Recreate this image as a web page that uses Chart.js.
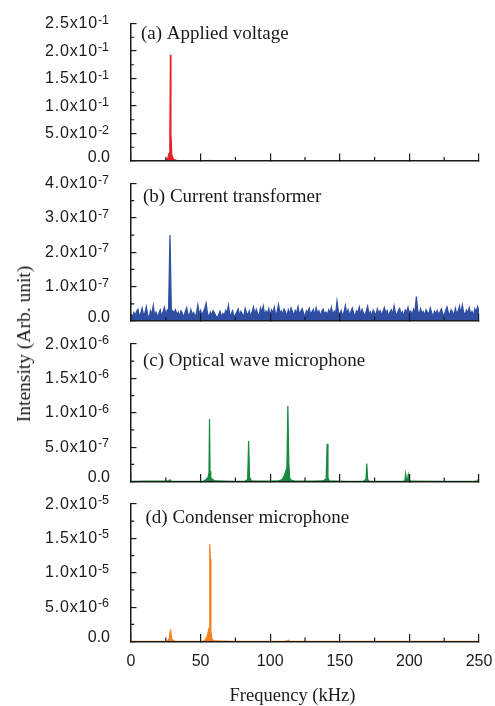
<!DOCTYPE html>
<html>
<head>
<meta charset="utf-8">
<script src="https://cdn.jsdelivr.net/npm/chart.js@4.4.0/dist/chart.umd.min.js"></script>
<style>
  html, body { margin: 0; padding: 0; background: #fff; }
  #wrap { position: relative; width: 495px; height: 706px; overflow: hidden; }
  canvas { position: absolute; left: 0; }
  #ytitle {
    position: absolute; left: 24px; top: 344px;
    transform: translate(-50%, -50%) rotate(-90deg);
    font: 19.5px "Liberation Serif", "Times New Roman", serif;
    color: #1a1a1a; white-space: nowrap;
  }
</style>
</head>
<body>
<div id="wrap">
  <canvas id="cA" width="495" height="170" style="top:0px"></canvas>
  <canvas id="cB" width="495" height="160" style="top:170px"></canvas>
  <canvas id="cC" width="495" height="160" style="top:330px"></canvas>
  <canvas id="cD" width="495" height="216" style="top:490px"></canvas>
  <div id="ytitle">Intensity (Arb. unit)</div>
</div>
<script>
// x axis (kHz)
const xMinor = [25, 75, 125, 175, 225];

// (a) applied voltage, values in units of 10^-1
const freqA = [0, 15, 24, 25.5, 26.5, 27.3, 27.9, 28.3, 28.7, 29.3, 30.5, 33, 45, 55, 56.5, 58, 85, 112, 113, 114.5, 140, 170, 200, 250];
const voltA = [0.004, 0.003, 0.004, 0.02, 0.06, 0.14, 0.45, 1.93, 0.5, 0.12, 0.03, 0.006, 0.003, 0.004, 0.012, 0.004, 0.003, 0.003, 0.006, 0.003, 0.003, 0.003, 0.003, 0.003];
const ticksA = [0, 0.5, 1.0, 1.5, 2.0, 2.5];
const labelsA = [['0.0', ''], ['5.0x10', '-2'], ['1.0x10', '-1'], ['1.5x10', '-1'], ['2.0x10', '-1'], ['2.5x10', '-1']];
const minorA = [0.25, 0.75, 1.25, 1.75, 2.25];

// (b) current transformer, units of 10^-7
const freqB = [
  0, 1, 2, 3, 4, 5, 6, 7, 8, 9,
  10, 11, 12, 13, 14, 15, 16, 17, 18, 19,
  20, 21, 22, 23, 24, 25, 26, 27, 28, 29,
  30, 31, 32, 33, 34, 35, 36, 37, 38, 39,
  40, 41, 42, 43, 44, 45, 46, 47, 48, 49,
  50, 51, 52, 53, 54, 55, 56, 57, 58, 59,
  60, 61, 62, 63, 64, 65, 66, 67, 68, 69,
  70, 71, 72, 73, 74, 75, 76, 77, 78, 79,
  80, 81, 82, 83, 84, 85, 86, 87, 88, 89,
  90, 91, 92, 93, 94, 95, 96, 97, 98, 99,
  100, 101, 102, 103, 104, 105, 106, 107, 108, 109,
  110, 111, 112, 113, 114, 115, 116, 117, 118, 119,
  120, 121, 122, 123, 124, 125, 126, 127, 128, 129,
  130, 131, 132, 133, 134, 135, 136, 137, 138, 139,
  140, 141, 142, 143, 144, 145, 146, 147, 148, 149,
  150, 151, 152, 153, 154, 155, 156, 157, 158, 159,
  160, 161, 162, 163, 164, 165, 166, 167, 168, 169,
  170, 171, 172, 173, 174, 175, 176, 177, 178, 179,
  180, 181, 182, 183, 184, 185, 186, 187, 188, 189,
  190, 191, 192, 193, 194, 195, 196, 197, 198, 199,
  200, 201, 202, 203, 204, 205, 206, 207, 208, 209,
  210, 211, 212, 213, 214, 215, 216, 217, 218, 219,
  220, 221, 222, 223, 224, 225, 226, 227, 228, 229,
  230, 231, 232, 233, 234, 235, 236, 237, 238, 239,
  240, 241, 242, 243, 244, 245, 246, 247, 248, 249,
  250
];
const currB = [
  0.20, 0.12, 0.25, 0.16, 0.28, 0.34, 0.14, 0.22, 0.38, 0.18,
  0.24, 0.42, 0.17, 0.10, 0.30, 0.21, 0.45, 0.15, 0.26, 0.12,
  0.22, 0.33, 0.14, 0.27, 0.40, 0.19, 0.31, 0.36, 2.50, 0.32,
  0.29, 0.24, 0.33, 0.18, 0.26, 0.15, 0.30, 0.21, 0.12, 0.28,
  0.39, 0.20, 0.16, 0.33, 0.19, 0.25, 0.11, 0.23, 0.47, 0.20,
  0.31, 0.16, 0.28, 0.37, 0.52, 0.21, 0.13, 0.26, 0.18, 0.30,
  0.23, 0.15, 0.09, 0.20, 0.29, 0.12, 0.22, 0.17, 0.31, 0.25,
  0.46, 0.14, 0.21, 0.30, 0.11, 0.19, 0.26, 0.35, 0.16, 0.28,
  0.20, 0.13, 0.37, 0.24, 0.18, 0.30, 0.12, 0.27, 0.41, 0.19,
  0.34, 0.22, 0.15, 0.38, 0.26, 0.44, 0.18, 0.29, 0.21, 0.36,
  0.17, 0.32, 0.24, 0.40, 0.15, 0.28, 0.48, 0.22, 0.30, 0.19,
  0.35, 0.26, 0.14, 0.33, 0.21, 0.38, 0.27, 0.16, 0.31, 0.24,
  0.42, 0.18, 0.29, 0.36, 0.22, 0.13, 0.30, 0.25, 0.37, 0.20,
  0.27, 0.34, 0.17, 0.39, 0.23, 0.30, 0.15, 0.28, 0.35, 0.21,
  0.26, 0.18, 0.33, 0.24, 0.40, 0.16, 0.29, 0.22, 0.58, 0.27,
  0.19, 0.31, 0.14, 0.26, 0.45, 0.21, 0.33, 0.17, 0.28, 0.38,
  0.22, 0.15, 0.30, 0.26, 0.41, 0.19, 0.34, 0.23, 0.16, 0.29,
  0.43, 0.21, 0.27, 0.14, 0.32, 0.24, 0.18, 0.36, 0.22, 0.30,
  0.17, 0.28, 0.39, 0.23, 0.31, 0.15, 0.26, 0.33, 0.20, 0.44,
  0.24, 0.18, 0.30, 0.37, 0.21, 0.27, 0.14, 0.32, 0.25, 0.40,
  0.22, 0.29, 0.17, 0.34, 0.26, 0.71, 0.30, 0.19, 0.36, 0.23,
  0.28, 0.16, 0.33, 0.25, 0.20, 0.38, 0.24, 0.13, 0.29, 0.22,
  0.31, 0.18, 0.27, 0.35, 0.21, 0.16, 0.30, 0.41, 0.24, 0.19,
  0.33, 0.26, 0.15, 0.37, 0.22, 0.29, 0.43, 0.20, 0.47, 0.25,
  0.18, 0.32, 0.24, 0.39, 0.21, 0.28, 0.15, 0.36, 0.27, 0.42,
  0.30
];
const ticksB = [0, 1, 2, 3, 4];
const labelsB = [['0.0', ''], ['1.0x10', '-7'], ['2.0x10', '-7'], ['3.0x10', '-7'], ['4.0x10', '-7']];
const minorB = [0.5, 1.5, 2.5, 3.5];

// (c) optical wave microphone, units of 10^-6
const freqC = [0, 12, 26, 27.5, 28.2, 29, 40, 52, 54, 55.3, 56, 56.4, 56.8, 57.3, 58.5, 61, 75, 82, 83.8, 84.5, 85.2, 86.5,
  100, 106, 108.5, 110, 111.2, 112, 112.7, 113.3, 114, 115, 117, 130, 138, 140.2, 140.9, 141.5, 142.5, 155,
  167, 168.8, 169.4, 170, 171, 185, 196, 196.8, 197.3, 197.9, 198.6, 199.2, 199.8, 201, 225, 247, 248.8, 249.4, 250];
const owmC = [0.004, 0.005, 0.006, 0.015, 0.025, 0.006, 0.004, 0.006, 0.03, 0.06, 0.12, 0.91, 0.15, 0.06, 0.03, 0.008, 0.004, 0.006, 0.03, 0.59, 0.06, 0.01,
  0.005, 0.008, 0.03, 0.08, 0.15, 0.2, 1.10, 0.3, 0.05, 0.02, 0.008, 0.005, 0.008, 0.04, 0.55, 0.05, 0.01, 0.004,
  0.006, 0.03, 0.26, 0.03, 0.006, 0.004, 0.005, 0.02, 0.11, 0.02, 0.03, 0.10, 0.02, 0.005, 0.004, 0.005, 0.01, 0.03, 0.01];
const ticksC = [0, 0.5, 1.0, 1.5, 2.0];
const labelsC = [['0.0', ''], ['5.0x10', '-7'], ['1.0x10', '-6'], ['1.5x10', '-6'], ['2.0x10', '-6']];
const minorC = [0.25, 0.75, 1.25, 1.75];

// (d) condenser microphone, units of 10^-5
const freqD = [0, 15, 26, 27.5, 28.2, 28.7, 29.4, 31, 45, 52, 53.5, 54.8, 55.6, 56.2, 56.6, 57.0, 57.4, 58.2, 60, 75, 110, 112.5, 113.2, 114, 140, 170, 200, 250];
const condD = [0.004, 0.004, 0.006, 0.04, 0.155, 0.12, 0.03, 0.006, 0.004, 0.006, 0.03, 0.08, 0.15, 0.2, 1.42, 1.2, 0.15, 0.03, 0.008, 0.004, 0.004, 0.012, 0.02, 0.006, 0.004, 0.004, 0.004, 0.004];
const ticksD = [0, 0.5, 1.0, 1.5, 2.0];
const labelsD = [['0.0', ''], ['5.0x10', '-6'], ['1.0x10', '-5'], ['1.5x10', '-5'], ['2.0x10', '-5']];
const minorD = [0.25, 0.75, 1.25, 1.75];

const INK = '#1a1a1a';
const SANS = '"Liberation Sans", Arial, sans-serif';
const SERIF = '"Liberation Serif", "Times New Roman", serif';

const panelDecor = {
  id: 'panelDecor',
  afterDraw(chart, args, o) {
    const { ctx, chartArea: a, scales: { x, y } } = chart;
    ctx.save();
    // minor ticks
    ctx.strokeStyle = INK;
    ctx.lineWidth = 1.2;
    ctx.beginPath();
    xMinor.forEach(v => {
      const px = x.getPixelForValue(v);
      ctx.moveTo(px, a.bottom);
      ctx.lineTo(px, a.bottom - 4);
    });
    o.minor.forEach(v => {
      const py = y.getPixelForValue(v);
      ctx.moveTo(a.left, py);
      ctx.lineTo(a.left + 3.2, py);
    });
    ctx.stroke();

    // y tick labels with superscript exponent
    ctx.fillStyle = INK;
    ctx.textBaseline = 'alphabetic';
    ctx.textAlign = 'right';
    const right = a.left - 22;
    o.ticks.forEach((v, i) => {
      const py = y.getPixelForValue(v);
      const [m, e] = o.labels[i];
      if (!e) {
        ctx.font = '16px ' + SANS;
        ctx.fillText(m, right + 1, py + 0.7);
        return;
      }
      ctx.font = '12.5px ' + SANS;
      ctx.fillText(e, right, py);
      const ew = ctx.measureText(e).width;
      ctx.font = '16px ' + SANS;
      ctx.letterSpacing = '0.8px';
      ctx.fillText(m, right - ew, py + 4.5);
      ctx.letterSpacing = '0px';
    });

    // panel title
    ctx.textAlign = 'left';
    ctx.font = '19px ' + SERIF;
    ctx.fillText(o.title, a.left + o.tx, a.top + o.ty);

    if (o.xTitle) {
      ctx.textAlign = 'center';
      ctx.font = '18.5px ' + SERIF;
      ctx.fillText(o.xTitle, o.xTitleX, o.xTitleY);
    }
    ctx.restore();
  }
};

function makePanel(id, freq, vals, color, yTicks, yLabels, yMinor, title, tx, ty, padTop, xHeight, bottom) {
  return new Chart(document.getElementById(id), {
    type: 'line',
    data: {
      labels: freq,
      datasets: [{
        data: vals,
        borderColor: color,
        backgroundColor: color,
        borderWidth: 1.2,
        pointRadius: 0,
        fill: 'origin',
        tension: 0
      }]
    },
    options: {
      responsive: false,
      animation: false,
      devicePixelRatio: 1,
      layout: { padding: { left: 0, right: 16, top: padTop, bottom: 0 } },
      plugins: {
        legend: { display: false },
        tooltip: { enabled: false },
        panelDecor: {
          ticks: yTicks, labels: yLabels, minor: yMinor, title: title, tx: tx, ty: ty,
          xTitle: bottom ? 'Frequency (kHz)' : '', xTitleX: 292.5, xTitleY: 211
        }
      },
      scales: {
        x: {
          type: 'linear',
          min: 0,
          max: 250,
          ticks: {
            stepSize: 50,
            display: bottom,
            maxRotation: 0,
            padding: 18.4,
            color: INK,
            font: { family: SANS, size: 16 }
          },
          grid: { display: true, drawOnChartArea: false, drawTicks: true, tickLength: -7.5, color: INK, lineWidth: 1.2, z: 1 },
          border: { display: true, color: INK, width: 1.5, z: 1 },
          afterFit: s => {
            s.height = xHeight;
            // labels sit inside the fixed margins, keep the plot width
            s.paddingLeft = 0;
            s.paddingRight = 0;
          }
        },
        y: {
          min: yTicks[0],
          max: yTicks[yTicks.length - 1],
          ticks: { display: false },
          afterBuildTicks: s => { s.ticks = yTicks.map(v => ({ value: v })); },
          grid: { display: true, drawOnChartArea: false, drawTicks: true, tickLength: -5.5, color: INK, lineWidth: 1.2, z: 1 },
          border: { display: true, color: INK, width: 1.5, z: 1 },
          afterFit: s => {
            s.width = 131;
            s.paddingTop = 0;
            s.paddingBottom = 0;
          }
        }
      }
    },
    plugins: [panelDecor]
  });
}

makePanel('cA', freqA, voltA, '#e8202a', ticksA, labelsA, minorA, '(a) Applied voltage', 10, 15.8, 23.5, 9, false);
makePanel('cB', freqB, currB, '#2d4ea2', ticksB, labelsB, minorB, '(b) Current transformer', 12, 18.2, 13.5, 9, false);
makePanel('cC', freqC, owmC, '#178a3e', ticksC, labelsC, minorC, '(c) Optical wave microphone', 12, 21.5, 14, 8.5, false);
makePanel('cD', freqD, condD, '#f5821f', ticksD, labelsD, minorD, '(d) Condenser microphone', 14.5, 18.7, 14, 64.5, true);
</script>
</body>
</html>
